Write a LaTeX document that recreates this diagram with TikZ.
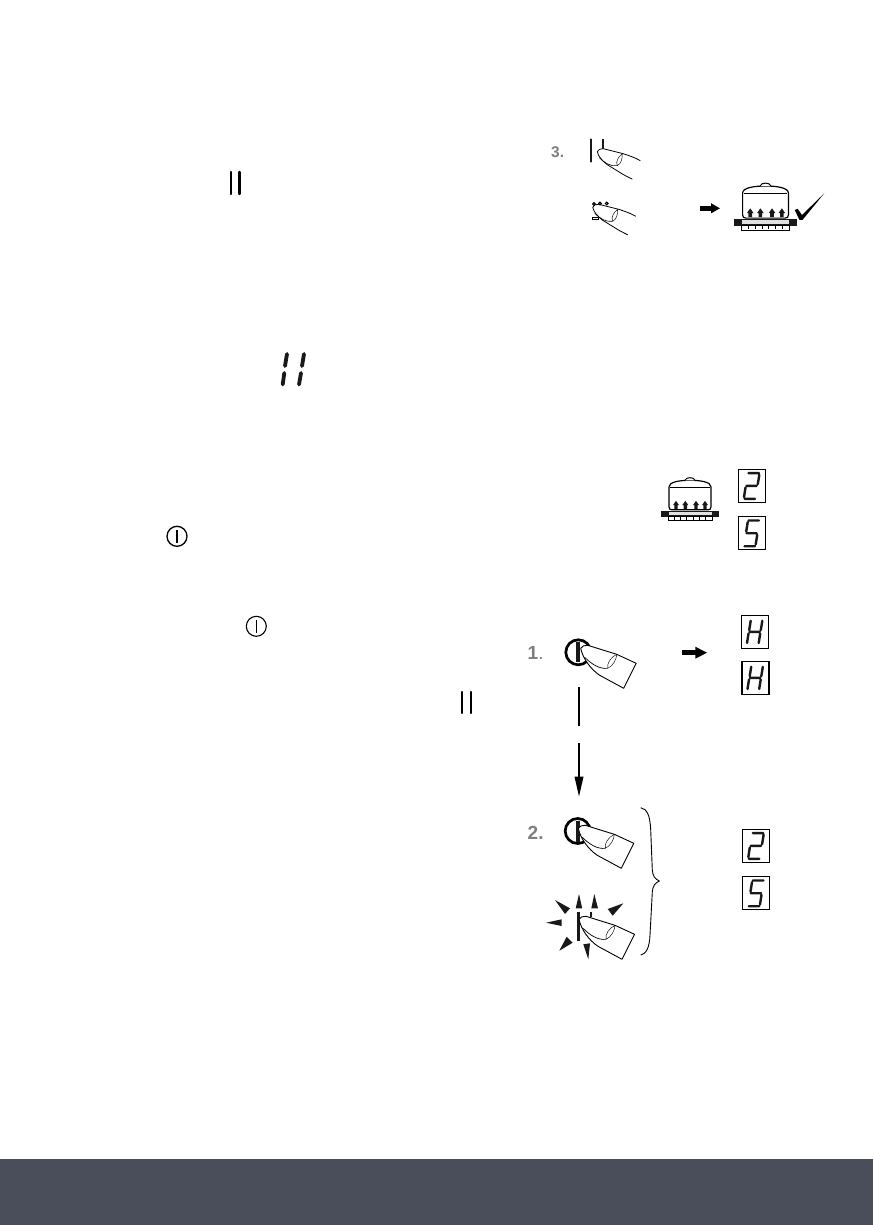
\documentclass[tikz,border=0pt]{standalone}
\usepackage{fontspec}
\setmainfont{Liberation Sans}
\usetikzlibrary{arrows.meta}
\definecolor{band}{HTML}{4A4D5A}
\definecolor{lbl}{HTML}{7F7F7F}
\newcommand{\sgT}{(-3.5,-12.7)--(7,-12.7)}
\newcommand{\sgUR}{(7.3,-11)--(5.8,-1.7)}
\newcommand{\sgUL}{(-4.3,-11)--(-5.8,-1.7)}
\newcommand{\sgM}{(-5.5,0)--(4.7,0)}
\newcommand{\sgLL}{(-6.5,1.7)--(-8,11.2)}
\newcommand{\sgLR}{(5.2,1.7)--(3.7,11.2)}
\newcommand{\sgB}{(-7.5,13)--(3,13)}
\tikzset{
  seg/.style={line width=2.4pt,line cap=round,black!90},
  dbox/.style={line width=1.1pt},
  fline/.style={line width=.9pt,fill=white,line join=round},
  nail/.style={line width=.45pt},
  slimbar/.style={line width=2.4pt,line cap=round},
  stepnum/.style={text=lbl,font=\bfseries,inner sep=0pt,anchor=west},
  bigarrow/.style={line width=5.5pt,-{Triangle[length=12pt,width=11pt]}},
  flash/.style={fill=black!90},
  dtwo/.pic={\draw[dbox] (-13.5,-16.5) rectangle (13.5,16.5);
    \draw[seg] \sgT \sgUR \sgM \sgLL \sgB;},
  dfive/.pic={\draw[dbox] (-13.5,-16.5) rectangle (13.5,16.5);
    \draw[seg] \sgT \sgUL \sgM \sgLR \sgB;},
  dhh/.pic={\draw[dbox] (-13.5,-16.5) rectangle (13.5,16.5);
    \draw[seg] \sgUL \sgUR \sgM \sgLL \sgLR;},
  fingerclosed/.pic={
    \draw[fline] (0,0) .. controls (1,-2) and (4,-3.5) .. (7,-3) -- (36,6) -- (55.5,15) -- (43,40) -- (19,27) .. controls (10,21) and (2,10) .. (0,0) -- cycle;
    \draw[nail] (36,6) .. controls (30,9) and (26,15) .. (27,20) (36,6) .. controls (36,11) and (32,18) .. (27,20);
    \draw[line width=.7pt] (4,9) .. controls (11,16) and (19,21) .. (27,20);},
  fingeropen/.pic={
    \path[fill=white] (0,0) .. controls (1,-2) and (3,-3.5) .. (6,-3) -- (26,2) .. controls (32,4) and (38,6) .. (43,9) -- (35,27.5) .. controls (30,25) and (26,23) .. (23,21) -- (10,13) .. controls (5,9) and (1,5) .. (0,0) -- cycle;
    \draw[line width=.8pt] (0,0) .. controls (1,-2) and (3,-3.5) .. (6,-3) -- (26,2) .. controls (32,4) and (38,6) .. (43,9);
    \draw[line width=.8pt] (0,0) .. controls (1,5) and (5,9) .. (10,13) -- (23,21) .. controls (26,23) and (30,25) .. (35,27.5);
    \draw[nail] (25,2) .. controls (21,5) and (18,10) .. (20,14) (25,2) .. controls (25,7) and (24,12) .. (20,14);
    \draw[line width=.6pt] (2,6) .. controls (7,11) and (13,15) .. (20,14);},
  cookpot/.pic={
    \fill[black!90] (-29,-2.8) rectangle (29,2.8);
    \fill[black!12] (-21.5,-2.2) rectangle (21.5,1.2);
    \draw[line width=.7pt] (-22,2.8) rectangle (22,7);
    \foreach \tx in {-15.7,-9.4,-3.1,3.1,9.4,15.7}{\draw[line width=.9pt] (\tx,2.8) -- (\tx,6);}
    \draw[line width=1.2pt] (-21,-27) -- (-21,-7) .. controls (-21,-5) and (-20,-4) .. (-18,-4) -- (18,-4) .. controls (20,-4) and (21,-5) .. (21,-7) -- (21,-27);
    \draw[line width=1.2pt] (-21,-27) .. controls (-21,-32) and (-10,-33.5) .. (0,-33.5) .. controls (10,-33.5) and (21,-32) .. (21,-27);
    \draw[line width=1.6pt] (-20,-26.5) -- (20,-26.5);
    \draw[line width=1pt,fill=white] (-5,-33.5) .. controls (-4,-37) and (4,-37) .. (5,-33.5);
    \foreach \ax in {-14,-4.7,6,15}{\fill[black!90] (\ax,-13) -- (\ax+3,-8.7) -- (\ax+1.7,-8.7) -- (\ax+1.7,-5) -- (\ax-1.7,-5) -- (\ax-1.7,-8.7) -- (\ax-3,-8.7) -- cycle;}}
}
\begin{document}
\begin{tikzpicture}[x=1pt,y=-1pt]
\useasboundingbox (0,0) rectangle (873,1225);
\fill[band] (0,1159) rectangle (873,1225);

% inline symbols, left column
\draw[slimbar] (230.7,172) -- (230.7,194) (239.3,172) -- (239.3,194);
\draw[line width=3.8pt,line cap=round,black!90] (287,354) -- (285,366) (284.3,373) -- (282.7,384.5) (304,354) -- (302,366) (301,373) -- (299,384.5);
\draw[line width=1.3pt] (177,536.3) circle (10);
\draw[line width=1.3pt] (177,530) -- (177,542.7);
\draw[line width=1.1pt] (256.3,626.3) circle (10);
\draw[line width=.8pt] (256.3,620) -- (256.3,633.3);
\draw[slimbar] (461.7,692) -- (461.7,713) (470.7,692) -- (470.7,713);

% step 3 group
\node[stepnum,font=\bfseries\fontsize{15.5}{16}\selectfont] (n3) at (551,152) {3.};
\draw[line width=2.2pt,line cap=round,black!90] (591,139.5) -- (591,161.5);
\draw[line width=2.2pt,black!90] (603.3,139.5) -- (603.3,152);
\pic at (597.3,151.7) {fingeropen};
\pic at (592.7,207.3) {fingeropen};
\draw[line width=1pt] (594,204) circle (1.4) (600,203.5) circle (1.4) (606.7,203.5) circle (1.4);
\draw[line width=.8pt] (592.3,217.3) rectangle (598,219.3);
\coordinate (a3s) at (700,208.3);
\coordinate (a3e) at (720,208.3);
\draw[line width=4.8pt,-{Triangle[length=9pt,width=9.5pt]}] (a3s) -- (a3e);
\pic[scale=1.09] at (765.5,222.5) {cookpot};
\fill[black] (794.7,210) -- (797.6,208.8) -- (802,215) -- (824.3,193.3) -- (802.6,219.8) -- (799.5,220) -- cycle;

% pot with 2/5
\pic at (690,513.8) {cookpot};
\pic at (752,485.8) {dtwo};
\pic at (752,533.2) {dfive};

% step 1
\node[stepnum,font=\bfseries\fontsize{19}{20}\selectfont] (n1) at (527.5,652.5) {1\textmd{.}};
\draw[line width=2.7pt] (578.3,652.3) circle (12.5);
\draw[line width=3.8pt,black!90] (578.3,641.7) -- (578.3,661.7);
\pic at (580.7,648.3) {fingerclosed};
\coordinate (a1s) at (682.3,652.7);
\coordinate (a1e) at (707.3,652.7);
\draw[bigarrow] (a1s) -- (a1e);
\pic at (755,631.8) {dhh};
\pic at (755.5,677.8) {dhh};

% connector 1 to 2, interrupted
\coordinate (c1) at (579,686.7);
\coordinate (c2) at (579,725.7);
\coordinate (c3) at (579,743);
\coordinate (c4) at (579,796.7);
\draw[line width=1.8pt] (c1) -- (c2);
\draw[line width=1.8pt,-{Triangle[length=20pt,width=8.5pt]}] (c3) -- (c4);

% step 2
\node[stepnum,font=\bfseries\fontsize{19}{20}\selectfont] (n2) at (527.5,833) {2.};
\draw[line width=2.7pt] (577.7,831) circle (12.5);
\draw[line width=3.8pt,black!90] (577.7,820.7) -- (577.7,841.7);
\pic at (578.3,828.3) {fingerclosed};

% flashing step
\draw[line width=3.4pt,black!90] (578.7,911.7) -- (578.7,940.7);
\draw[line width=2.6pt,black!90] (591,911.7) -- (591,917);
\pic at (579,919.3) {fingerclosed};
\fill[flash] (579,894) -- (582.2,908.3) -- (575.7,908.3) -- cycle;
\fill[flash] (594.3,894) -- (598,908.3) -- (591.3,908.3) -- cycle;
\fill[flash] (623.3,903.3) -- (612.7,915.7) -- (607.7,909) -- cycle;
\fill[flash] (555,900) -- (570,908.3) -- (565,914) -- cycle;
\fill[flash] (546,922.7) -- (561.7,919.3) -- (561.7,926) -- cycle;
\fill[flash] (559.3,950.7) -- (566.7,936.7) -- (572.7,942.7) -- cycle;
\fill[flash] (588.3,959.3) -- (583.3,944.3) -- (590,943.3) -- cycle;

% brace
\draw[line width=.9pt] (640.7,807.7) .. controls (647,809) and (650,815) .. (650.7,830) -- (652.3,870) .. controls (652.7,876) and (655,879) .. (659.3,881) .. controls (655,883) and (652.7,886) .. (652.3,892) -- (650,935) .. controls (649.5,948) and (646,954) .. (640.7,955);

\pic at (756.3,845.8) {dtwo};
\pic at (756.3,893.2) {dfive};
\end{tikzpicture}
\end{document}
